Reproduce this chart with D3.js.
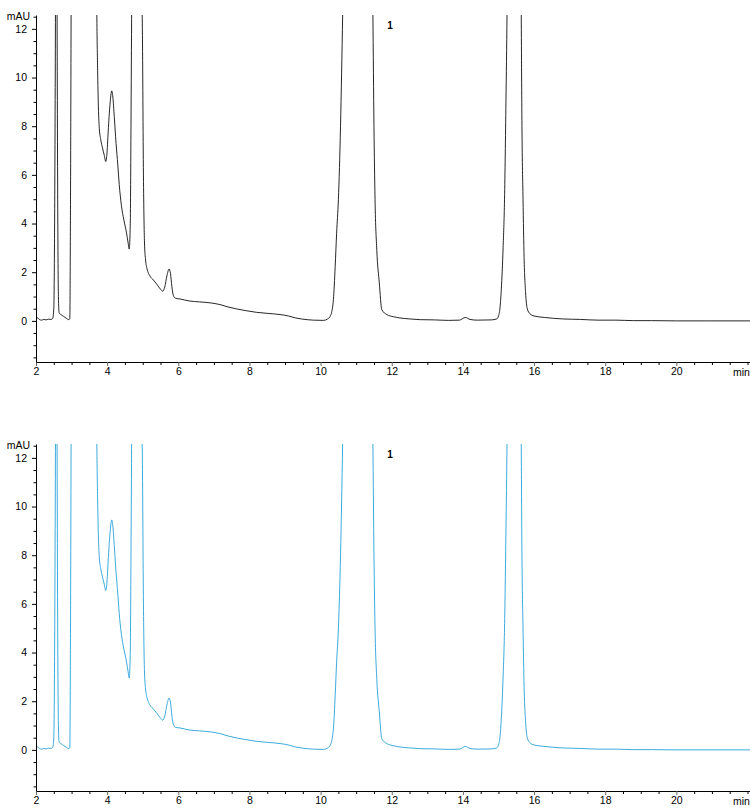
<!DOCTYPE html>
<html>
<head>
<meta charset="utf-8">
<script src="https://cdn.jsdelivr.net/npm/d3@7/dist/d3.min.js"></script>
<style>
  html, body { margin: 0; padding: 0; background: #fff; }
  svg { display: block; }
  text { font-family: "Liberation Sans", Arial, Helvetica, sans-serif; }
</style>
</head>
<body>
<script>
// ---- data ----
const times = [
  2.0, 2.05, 2.1, 2.16, 2.22, 2.28, 2.35, 2.42, 2.47, 2.5, 2.53, 2.55, 2.57, 2.59, 2.61, 2.63, 2.65,
  2.7, 2.78, 2.86, 2.92, 2.95, 2.97, 2.99, 3.05, 3.4, 3.68, 3.71, 3.73, 3.75, 3.78, 3.82, 3.87, 3.92,
  3.96, 3.99, 4.03, 4.08, 4.13, 4.16, 4.2, 4.25, 4.3, 4.34, 4.4, 4.47, 4.54, 4.59, 4.62, 4.65, 4.67,
  4.69, 4.75, 4.9, 4.96, 4.99, 5.02, 5.05, 5.08, 5.12, 5.2, 5.3, 5.4, 5.5, 5.56, 5.62, 5.68, 5.74,
  5.78, 5.82, 5.86, 5.92, 6.05, 6.3, 6.6, 6.9, 7.17, 7.4, 7.64, 7.9, 8.2, 8.5, 8.86, 9.1, 9.3, 9.5,
  9.8, 10.08, 10.2, 10.27, 10.33, 10.36, 10.41, 10.45, 10.5, 10.56, 10.62, 10.7, 11.1, 11.4, 11.47,
  11.5, 11.53, 11.58, 11.65, 11.72, 11.86, 12.05, 12.23, 12.5, 12.8, 13.2, 13.6, 13.9, 14.07, 14.2,
  14.4, 14.8, 14.95, 15.0, 15.04, 15.08, 15.13, 15.17, 15.21, 15.24, 15.3, 15.45, 15.6, 15.64, 15.66,
  15.69, 15.72, 15.76, 15.81, 15.88, 16.0, 16.3, 16.8, 17.3, 17.8, 18.3, 18.8, 19.3, 20.0, 21.0, 22.1
];
const values = [
  0.13, 0.12, 0.05, 0.03, 0.06, 0.04, 0.07, 0.06, 0.1, 0.5, 6, 14, 25, 14, 5, 1, 0.33,
  0.26, 0.18, 0.1, 0.05, 0.08, 5, 14, 30, 40, 20, 12.6, 10.5, 9, 7.9, 7.45, 7.1, 6.8,
  6.55, 6.8, 7.8, 8.9, 9.45, 9.2, 8.4, 7.3, 6.4, 5.6, 4.75, 4.15, 3.65, 3.2, 2.95, 4, 8,
  13, 25, 25, 14, 12, 6, 3.2, 2.5, 2.15, 1.85, 1.68, 1.5, 1.3, 1.22, 1.4, 1.85, 2.13,
  1.95, 1.4, 1.05, 0.93, 0.9, 0.82, 0.78, 0.74, 0.67, 0.57, 0.49, 0.42, 0.35, 0.31, 0.26, 0.2, 0.12, 0.07,
  0.03, 0.02, 0.08, 0.19, 0.5, 0.87, 2.24, 3.6, 4.98, 8, 12.6, 20, 45, 22, 12.6,
  8, 5, 2.9, 1.56, 0.46, 0.26, 0.17, 0.12, 0.08, 0.05, 0.04, 0.02, 0.03, 0.14, 0.06,
  0.03, 0.04, 0.08, 0.2, 0.5, 1.3, 3, 5, 9, 12.6, 25, 40, 25, 12.6, 8,
  5, 2.6, 1.2, 0.5, 0.3, 0.2, 0.14, 0.08, 0.06, 0.03, 0.03, 0.01, 0.01, 0.0, 0.0, 0.0
];
const xTicks = [2, 4, 6, 8, 10, 12, 14, 16, 18, 20];
const yTicks = [0, 2, 4, 6, 8, 10, 12];
const xDomain = [2, 22.07];
const yDomain = [-1.69, 12.57];
const peakLabels = ["1"];
const peakLabelTimes = [11.95];
const peakLabelValues = [12.0];
const panelColors = ["#000000", "#1a9bd7"];
const yUnit = "mAU";
const xUnit = "min";

// ---- drawing ----
const W = 750, H = 810;
const svg = d3.select("body").append("svg").attr("width", W).attr("height", H);

const data = times.map((t, i) => ({ t, v: values[i] }));
const panelOffsets = [0, 429];

const x = d3.scaleLinear().domain(xDomain).range([36, 750]);
const y = d3.scaleLinear().domain(yDomain).range([362, 15]);

const xMinor = d3.range(2, 22.01, 0.5).filter(v => !xTicks.includes(v));
const yMinor = d3.range(-1.5, 12.51, 0.5).filter(v => !yTicks.includes(v));

panelOffsets.forEach((off, pi) => {
  const g = svg.append("g").attr("transform", `translate(0,${off})`);

  const clipId = "clip" + pi;
  g.append("clipPath").attr("id", clipId)
    .append("rect").attr("x", 36).attr("y", 15).attr("width", 714).attr("height", 347);

  const line = d3.line().x(d => x(d.t)).y(d => y(d.v)).curve(d3.curveMonotoneX);
  g.append("path")
    .datum(data)
    .attr("clip-path", `url(#${clipId})`)
    .attr("fill", "none")
    .attr("stroke", panelColors[pi])
    .attr("stroke-width", 0.85)
    .attr("d", line);

  // x axis
  const xAxis = g.append("g").attr("transform", "translate(0,362)")
    .call(d3.axisBottom(x).tickValues(xTicks).tickSize(4).tickSizeOuter(0).tickPadding(1.5)
      .tickFormat(d3.format("d")));
  xAxis.select(".domain").attr("stroke", "#000");
  xAxis.selectAll("text").attr("font-size", "10.5px").attr("fill", "#000")
    .attr("font-family", "'Liberation Sans', Arial, sans-serif");
  xAxis.selectAll(".tick line").attr("stroke", "#666");
  const xAxisMinor = g.append("g").attr("transform", "translate(0,362)")
    .call(d3.axisBottom(x).tickValues(xMinor).tickSize(3).tickSizeOuter(0).tickFormat(""));
  xAxisMinor.select(".domain").remove();
  xAxisMinor.selectAll(".tick line").attr("stroke", "#000");

  // y axis
  const yAxis = g.append("g").attr("transform", "translate(36,0)")
    .call(d3.axisLeft(y).tickValues(yTicks).tickSize(4).tickSizeOuter(0).tickPadding(5)
      .tickFormat(d3.format("d")));
  yAxis.select(".domain").attr("stroke", "#000");
  yAxis.selectAll("text").attr("font-size", "10.5px").attr("fill", "#000")
    .attr("font-family", "'Liberation Sans', Arial, sans-serif");
  const yAxisMinor = g.append("g").attr("transform", "translate(36,0)")
    .call(d3.axisLeft(y).tickValues(yMinor).tickSize(2.5).tickSizeOuter(0).tickFormat(""));
  yAxisMinor.select(".domain").remove();

  // unit labels
  g.append("text").attr("x", 30).attr("y", 19.5).attr("text-anchor", "end")
    .attr("font-size", "10.5px").attr("fill", "#000").text(yUnit);
  g.append("text").attr("x", 733).attr("y", 362 + 13.5).attr("text-anchor", "start")
    .attr("font-size", "10.5px").attr("fill", "#000").text(xUnit);

  // peak labels
  peakLabels.forEach((lab, i) => {
    g.append("text").attr("x", x(peakLabelTimes[i])).attr("y", y(peakLabelValues[i]) + 0.5)
      .attr("text-anchor", "middle").attr("font-size", "10px").attr("font-weight", "bold")
      .attr("fill", "#000").text(lab);
  });
});
</script>
</body>
</html>
